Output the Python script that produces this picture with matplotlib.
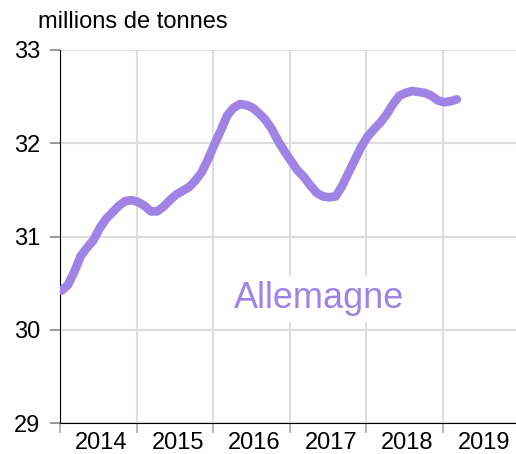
import numpy as np
import pandas as pd
import matplotlib
matplotlib.use('Agg')
import matplotlib.pyplot as plt

plt.rcParams['font.family'] = ['Liberation Sans', 'DejaVu Sans']

# monthly values, Jan 2014 - Mar 2019 (millions de tonnes)
months = pd.date_range('2014-01-01', periods=63, freq='MS')
values = [30.42, 30.48, 30.62, 30.79, 30.88, 30.96, 31.09, 31.19, 31.26, 31.33, 31.38, 31.39,
          31.37, 31.33, 31.27, 31.27, 31.32, 31.39, 31.45, 31.49, 31.53, 31.60, 31.69, 31.83,
          31.99, 32.14, 32.30, 32.38, 32.42, 32.41, 32.38, 32.32, 32.25, 32.15, 32.02, 31.91,
          31.81, 31.71, 31.64, 31.55, 31.47, 31.43, 31.42, 31.43, 31.54, 31.68, 31.82, 31.96,
          32.07, 32.15, 32.22, 32.31, 32.42, 32.51, 32.54, 32.56, 32.55, 32.54, 32.51, 32.46,
          32.44, 32.45, 32.47]
years = [2014, 2015, 2016, 2017, 2018, 2019]
y_ticks = [29, 30, 31, 32, 33]
label = 'Allemagne'
line_color = '#9f84e6'

# decimal year for x axis
x = months.year + (months.month - 1) / 12 + 0.02

fig = plt.figure(figsize=(5.16, 4.54), dpi=100)
ax = fig.add_axes([60 / 516, 31 / 454, 459 / 516, 373 / 454])

ax.plot(x, values, color=line_color, lw=6.3, solid_capstyle='round', solid_joinstyle='round', zorder=3)

ax.set_xlim(2014, 2020)
ax.set_ylim(29, 33)
ax.set_yticks(y_ticks)
ax.set_xticks(years)
ax.set_xticklabels([])
# year labels sit in the middle of each year
ax.set_xticks([y + 0.54 for y in years], minor=True)
ax.set_xticklabels([str(y) for y in years], minor=True)
ax.tick_params(axis='x', which='minor', length=0, labelsize=17, pad=6.5)
ax.tick_params(axis='x', which='major', length=7, color='#aaaaaa', width=1.2)
ax.tick_params(axis='y', length=7, color='#888888', width=1.2, labelsize=17, pad=7)

ax.grid(True, which='major', color='#dddddd', lw=1.5, zorder=0)
for s in ['top', 'right']:
    ax.spines[s].set_visible(False)
ax.spines['left'].set_color('black')
ax.spines['bottom'].set_color('black')

ax.text(2017.38, 30.23, label, color=line_color, fontsize=26, ha='center', va='baseline',
        bbox=dict(facecolor='white', edgecolor='none', pad=4), zorder=2)

fig.text(38 / 516, 1 - 28 / 454, 'millions de tonnes', fontsize=17, ha='left', va='baseline')

fig.savefig('out.png', dpi=100)
